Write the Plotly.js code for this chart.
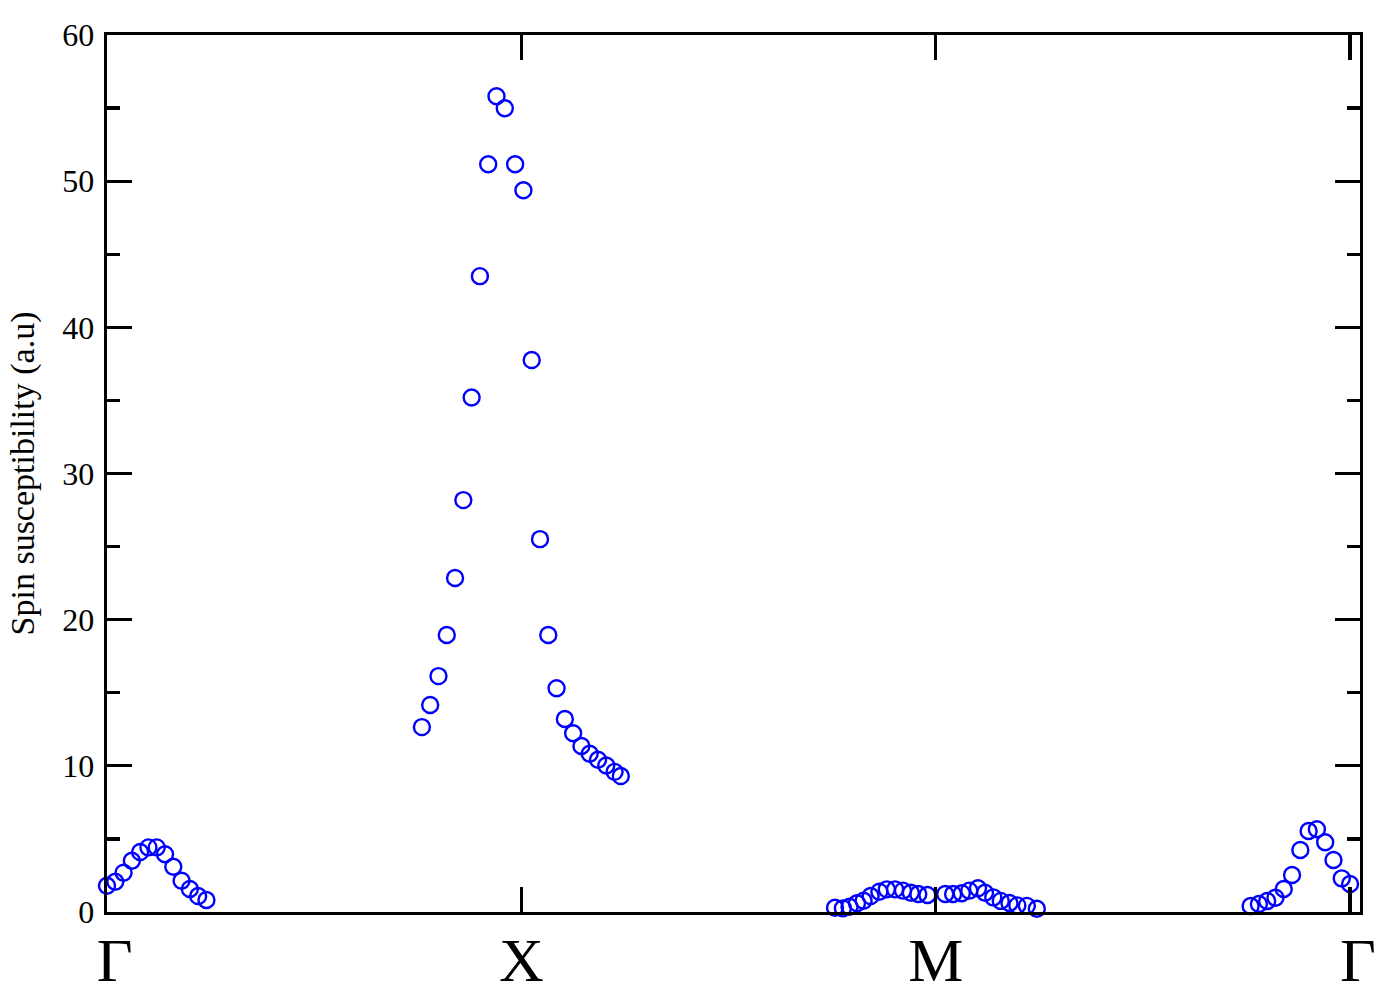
<!DOCTYPE html>
<html>
<head>
<meta charset="utf-8">
<script src="https://cdn.plot.ly/plotly-3.0.1.min.js"></script>
<style>html,body{margin:0;padding:0;background:#fff;}#chart{width:1396px;height:994px;}</style>
</head>
<body>
<div id="chart"></div>
<script>
// k-path coordinate (Γ=0, X=1, M=2, Γ=3) and spin susceptibility (a.u)
const kGammaStart = [0, 0.02, 0.04, 0.06, 0.08, 0.10, 0.12, 0.14, 0.16, 0.18, 0.20, 0.22, 0.24];
const chiGammaStart = [1.80, 2.07, 2.69, 3.51, 4.10, 4.42, 4.42, 3.95, 3.10, 2.14, 1.57, 1.09, 0.82];

const kX = [0.76, 0.78, 0.80, 0.82, 0.84, 0.86, 0.88, 0.90, 0.92, 0.94, 0.96, 0.985, 1.005,
            1.025, 1.045, 1.065, 1.085, 1.105, 1.125, 1.145, 1.165, 1.185, 1.205, 1.225, 1.24];
const chiX = [12.65, 14.16, 16.14, 18.95, 22.85, 28.18, 35.20, 43.50, 51.16, 55.81, 54.99, 51.16, 49.38,
              37.76, 25.51, 18.95, 15.31, 13.20, 12.23, 11.36, 10.83, 10.42, 10.02, 9.59, 9.30];

const kM = [1.757, 1.776, 1.792, 1.810, 1.826, 1.843, 1.864, 1.882, 1.902, 1.921, 1.940, 1.958, 1.980,
            2.023, 2.042, 2.063, 2.081, 2.102, 2.119, 2.139, 2.157, 2.178, 2.197, 2.220, 2.244];
const chiM = [0.29, 0.25, 0.36, 0.60, 0.77, 1.09, 1.39, 1.55, 1.55, 1.46, 1.32, 1.23, 1.16,
              1.23, 1.23, 1.28, 1.46, 1.62, 1.32, 1.00, 0.76, 0.62, 0.45, 0.42, 0.22];

const kGammaEnd = [2.76, 2.78, 2.80, 2.82, 2.84, 2.86, 2.88, 2.90, 2.92, 2.94, 2.96, 2.98, 3.00];
const chiGammaEnd = [0.41, 0.55, 0.75, 0.98, 1.57, 2.53, 4.24, 5.54, 5.66, 4.77, 3.56, 2.30, 1.92];

const kTickVals = [0, 1, 2, 3];
const kTickText = ['\u00a0Γ', 'X', 'M', '\u00a0Γ'];
const yAxisTitle = 'Spin susceptibility (a.u)';

const xs = [].concat(kGammaStart, kX, kM, kGammaEnd);
const ys = [].concat(chiGammaStart, chiX, chiM, chiGammaEnd);

const serif = 'Liberation Serif, Times New Roman, serif';

const trace = {
  x: xs, y: ys, type: 'scatter', mode: 'markers', cliponaxis: false,
  marker: {symbol: 'circle-open', size: 16, color: '#0000ff', line: {color: '#0000ff', width: 2.4}},
  hoverinfo: 'x+y'
};

const layout = {
  width: 1396, height: 994,
  margin: {l: 107, r: 36, t: 35, b: 82},
  paper_bgcolor: '#fff', plot_bgcolor: '#fff',
  showlegend: false,
  xaxis: {
    range: [0, 3.024], showgrid: false, zeroline: false,
    showline: true, linecolor: '#000', linewidth: 3.3, mirror: 'ticks',
    ticks: 'inside', ticklen: 25, tickwidth: 3.3, tickcolor: '#000',
    tickmode: 'array', tickvals: kTickVals, ticktext: kTickText,
    tickfont: {family: serif, size: 62, color: '#000'},
    ticklabelstandoff: -9
  },
  yaxis: {
    range: [0, 60], showgrid: false, zeroline: false,
    showline: true, linecolor: '#000', linewidth: 3.3, mirror: 'ticks',
    ticks: 'inside', ticklen: 25, tickwidth: 3.3, tickcolor: '#000',
    dtick: 10, tick0: 0,
    minor: {dtick: 5, ticks: 'inside', ticklen: 13, tickwidth: 3.3, tickcolor: '#000', showgrid: false},
    tickfont: {family: serif, size: 32, color: '#000'},
    ticklabelstandoff: 3,
    title: {text: yAxisTitle, font: {family: serif, size: 34, color: '#000'}, standoff: 18}
  }
};

Plotly.newPlot('chart', [trace], layout, {displayModeBar: false, staticPlot: true});
</script>
</body>
</html>
